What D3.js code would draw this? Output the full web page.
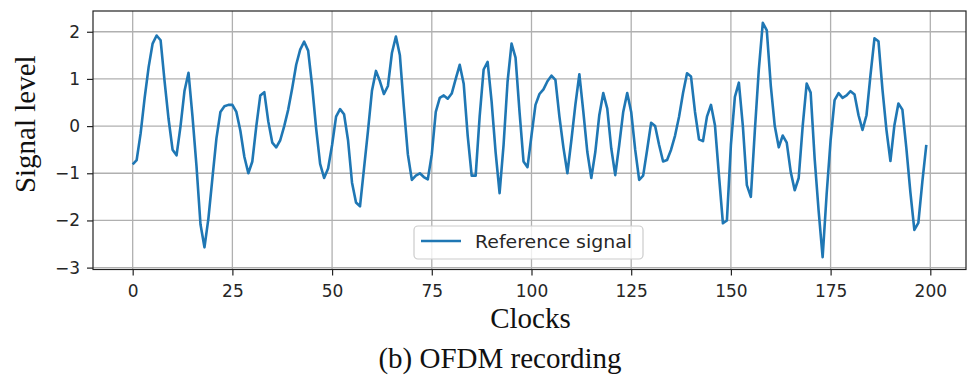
<!DOCTYPE html>
<html>
<head>
<meta charset="utf-8">
<script src="https://cdn.jsdelivr.net/npm/d3@7"></script>
<style>
  html, body { margin: 0; padding: 0; background: #fff; }
  svg { display: block; }
</style>
</head>
<body>
<svg id="chart" width="969" height="377"></svg>
<script>
// ---- data ----
const clocks = d3.range(0, 200);
const referenceSignal = [
  -0.81, -0.72, -0.15, 0.6, 1.25, 1.75, 1.92, 1.82, 0.95, 0.15,
  -0.5, -0.62, 0.0, 0.75, 1.13, 0.2, -0.85, -2.08, -2.57, -1.95,
  -1.1, -0.26, 0.3, 0.42, 0.45, 0.45, 0.3, -0.1, -0.65, -1.0,
  -0.75, 0.0, 0.65, 0.72, 0.1, -0.35, -0.45, -0.3, 0.0, 0.35,
  0.8, 1.3, 1.62, 1.79, 1.6, 0.85, -0.05, -0.8, -1.1, -0.9,
  -0.4, 0.2, 0.36, 0.25, -0.3, -1.2, -1.62, -1.7, -0.9, -0.1,
  0.75, 1.17, 0.95, 0.68, 0.85, 1.55, 1.9, 1.5, 0.4, -0.6,
  -1.14, -1.05, -1.0, -1.08, -1.13, -0.6, 0.3, 0.6, 0.65, 0.58,
  0.69, 1.0, 1.3, 0.9, -0.2, -1.05, -1.05, 0.2, 1.2, 1.36,
  0.52, -0.55, -1.42, -0.4, 0.94, 1.75, 1.45, 0.3, -0.75, -0.87,
  -0.2, 0.45, 0.68, 0.78, 0.95, 1.07, 0.98, 0.2, -0.45, -1.0,
  -0.3, 0.45, 1.1, 0.3, -0.55, -1.1, -0.55, 0.23, 0.7, 0.37,
  -0.47, -1.04, -0.4, 0.3, 0.7, 0.3, -0.5, -1.14, -1.05, -0.5,
  0.07, 0.0, -0.4, -0.75, -0.72, -0.5, -0.2, 0.2, 0.7, 1.12,
  1.05, 0.3, -0.28, -0.32, 0.2, 0.45, 0.02, -1.04, -2.06, -2.0,
  -0.4, 0.62, 0.92, 0.0, -1.25, -1.5, -0.1, 1.2, 2.19, 2.03,
  0.86, 0.0, -0.45, -0.2, -0.35, -0.97, -1.36, -1.1, 0.0, 0.9,
  0.71, -0.69, -1.8, -2.78, -1.45, -0.3, 0.55, 0.7, 0.6, 0.65,
  0.74, 0.67, 0.23, -0.08, 0.23, 1.08, 1.86, 1.8, 0.78, -0.08,
  -0.74, 0.02, 0.48, 0.35, -0.47, -1.4, -2.2, -2.05, -1.18, -0.4
];
const xTicks = [0, 25, 50, 75, 100, 125, 150, 175, 200];
const yTicks = [-3, -2, -1, 0, 1, 2];
const seriesName = "Reference signal";
const xTitle = "Clocks";
const yTitle = "Signal level";
const caption = "(b) OFDM recording";

// ---- layout ----
const L = 93, R = 966, T = 11, B = 269.5;
const svg = d3.select("#chart");

const x = d3.scaleLinear().domain([-9.95, 208.95]).range([L, R]);
const y = d3.scaleLinear().domain([-3.04, 2.44]).range([B, T]);

const tickFont = "'DejaVu Sans', sans-serif";
const serif = "'Liberation Serif', 'Times New Roman', serif";

// grid
const grid = svg.append("g").attr("stroke", "#b0b0b0").attr("stroke-width", 1.3);
grid.selectAll(".gx").data(xTicks).join("line")
  .attr("x1", d => x(d)).attr("x2", d => x(d))
  .attr("y1", T).attr("y2", B);
grid.selectAll(".gy").data(yTicks).join("line")
  .attr("x1", L).attr("x2", R)
  .attr("y1", d => y(d)).attr("y2", d => y(d));

// line
const line = d3.line().x((d, i) => x(clocks[i])).y(d => y(d));
svg.append("path")
  .datum(referenceSignal)
  .attr("fill", "none")
  .attr("stroke", "#1f77b4")
  .attr("stroke-width", 2.6)
  .attr("stroke-linejoin", "round")
  .attr("d", line);

// frame
svg.append("rect")
  .attr("x", L).attr("y", T).attr("width", R - L).attr("height", B - T)
  .attr("fill", "none").attr("stroke", "#222").attr("stroke-width", 1.2);

// axes
const xAxis = svg.append("g").attr("transform", `translate(0,${B})`)
  .call(d3.axisBottom(x).tickValues(xTicks).tickSize(6).tickPadding(9).tickFormat(d3.format("d")));
const yAxis = svg.append("g").attr("transform", `translate(${L},0)`)
  .call(d3.axisLeft(y).tickValues(yTicks).tickSize(6).tickPadding(7).tickFormat(d3.format("d")));
[xAxis, yAxis].forEach(a => {
  a.select(".domain").remove();
  a.selectAll(".tick line").attr("stroke", "#222").attr("stroke-width", 1.2);
  a.selectAll(".tick text").attr("fill", "#262626")
    .style("font-family", tickFont).style("font-size", "17px");
});

// axis titles
svg.append("text")
  .attr("x", (L + R) / 2 + 1).attr("y", 328)
  .attr("text-anchor", "middle")
  .style("font-family", serif).style("font-size", "29px").attr("fill", "#111")
  .text(xTitle);
svg.append("text")
  .attr("transform", `translate(35,${(T + B) / 2 - 16}) rotate(-90)`)
  .attr("text-anchor", "middle")
  .style("font-family", serif).style("font-size", "29px").attr("fill", "#111")
  .text(yTitle);
svg.append("text")
  .attr("x", 500).attr("y", 368)
  .attr("text-anchor", "middle")
  .style("font-family", serif).style("font-size", "29px").attr("fill", "#111")
  .text(caption);

// legend
const lg = svg.append("g");
lg.append("rect")
  .attr("x", 414).attr("y", 226).attr("width", 229).attr("height", 33)
  .attr("rx", 4).attr("fill", "#fff").attr("fill-opacity", 0.8)
  .attr("stroke", "#cccccc").attr("stroke-width", 1.2);
lg.append("line")
  .attr("x1", 421).attr("x2", 461).attr("y1", 241).attr("y2", 241)
  .attr("stroke", "#1f77b4").attr("stroke-width", 2.6);
lg.append("text")
  .attr("x", 475).attr("y", 247.5)
  .attr("textLength", 157).attr("lengthAdjust", "spacingAndGlyphs")
  .style("font-family", tickFont).style("font-size", "18px").attr("fill", "#262626")
  .text(seriesName);
</script>
</body>
</html>
